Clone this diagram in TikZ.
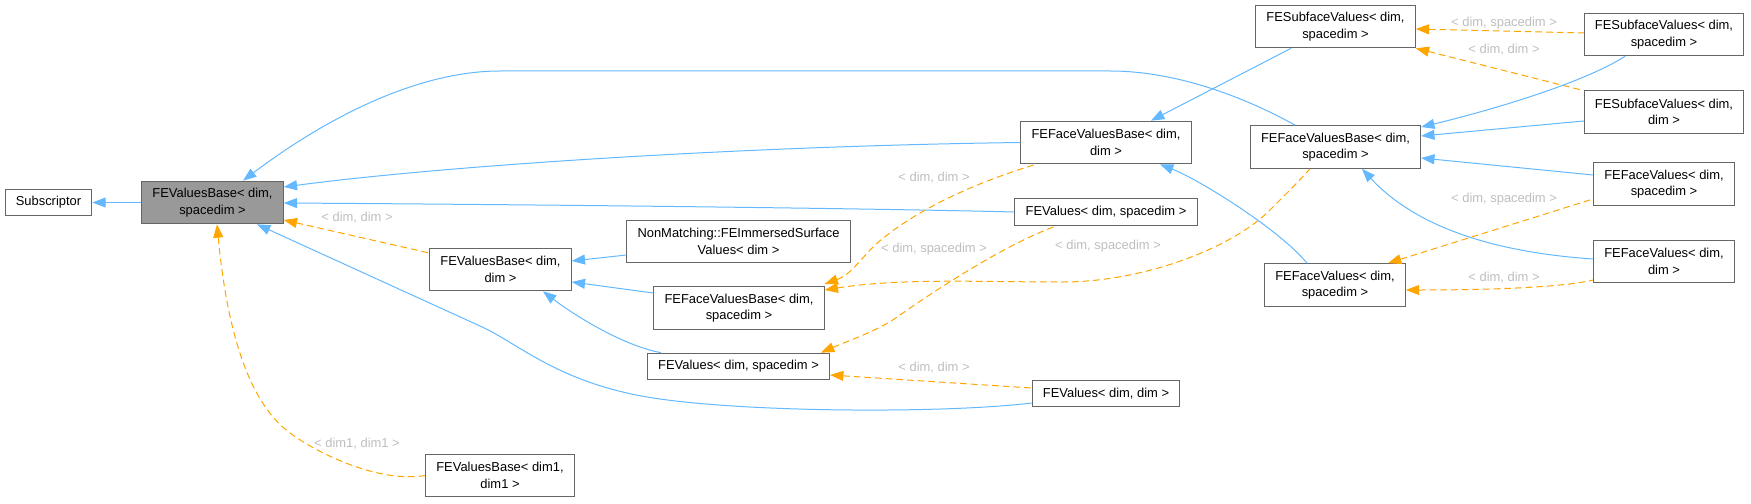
\documentclass[tikz,border=0pt]{standalone}
\usepackage{fontspec}
\setmainfont{Liberation Sans}
\usetikzlibrary{arrows.meta}
\definecolor{edgeblue}{HTML}{63B8FF}
\definecolor{edgeorange}{HTML}{FFA500}
\definecolor{boxline}{HTML}{666666}
\definecolor{boxgray}{HTML}{999999}
\definecolor{labelgray}{HTML}{BEBEBE}
\begin{document}
\begin{tikzpicture}[x=0.75pt, y=-0.75pt,
		every node/.style={font=\fontsize{9.7}{12.5}\selectfont},
		cls/.style={draw=boxline, line width=0.75pt, fill=white, align=center, inner xsep=8pt, inner ysep=0pt, minimum height=32pt},
		cls1/.style={cls, minimum height=20pt},
		inherit/.style={draw=edgeblue, line width=0.75pt, {Triangle[length=10pt,width=7.5pt,fill=edgeblue]}-},
		usage/.style={draw=edgeorange, line width=0.75pt, dash pattern=on 5pt off 3pt, {Triangle[length=10pt,width=7.5pt,fill=edgeorange]}-},
		tlabel/.style={text=labelgray, inner sep=1pt}]
	\useasboundingbox (0,0) rectangle (1751,503);

	\node[cls1] (sub) at (48.5,202.5) {Subscriptor};
	\node[cls, fill=boxgray] (fvb) at (212.5,202.5) {FEValuesBase< dim,\\spacedim >};
	\node[cls] (fvbdd) at (500.5,269.5) {FEValuesBase< dim,\\dim >};
	\node[cls] (nmis) at (738.5,241.5) {NonMatching::FEImmersedSurface\\Values< dim >};
	\node[cls] (ffvbl) at (739,308) {FEFaceValuesBase< dim,\\spacedim >};
	\node[cls1] (fvl) at (738.5,366.5) {FEValues< dim, spacedim >};
	\node[cls] (fvbone) at (500,475.5) {FEValuesBase< dim1,\\dim1 >};
	\node[cls1] (fvdd) at (1106,393.5) {FEValues< dim, dim >};
	\node[cls] (ffvbdd) at (1106,142.5) {FEFaceValuesBase< dim,\\dim >};
	\node[cls1] (fvm) at (1106,212) {FEValues< dim, spacedim >};
	\node[cls] (fsvt) at (1335.5,26.5) {FESubfaceValues< dim,\\spacedim >};
	\node[cls] (ffvbr) at (1335.5,147) {FEFaceValuesBase< dim,\\spacedim >};
	\node[cls] (ffvm) at (1335,285) {FEFaceValues< dim,\\spacedim >};
	\node[cls] (fsvr) at (1664,34.5) {FESubfaceValues< dim,\\spacedim >};
	\node[cls] (fsvdd) at (1664,112) {FESubfaceValues< dim,\\dim >};
	\node[cls] (ffvr) at (1664,184) {FEFaceValues< dim,\\spacedim >};
	\node[cls] (ffvdd) at (1664,261.5) {FEFaceValues< dim,\\dim >};

	\draw[inherit] (sub.east) -- (fvb.west);
	\draw[inherit] (fvb.east |- 0,187) .. controls (450,165) and (750,146) .. (ffvbdd.west);
	\draw[inherit] (fvb.east |- 0,203) .. controls (600,205) and (900,209) .. (fvm.west);
	\draw[usage] (fvb.east |- 0,220) -- (fvbdd.west |- 0,253);
	\draw[inherit] (257,0 |- fvb.south) -- (480,326) .. controls (520,344) and (560,385) .. (660,399) .. controls (760,413) and (950,413) .. (fvdd.west |- 0,403);
	\draw[usage] (217,0 |- fvb.south) .. controls (226,320) and (245,400) .. (290,433) .. controls (320,455) and (380,483) .. (fvbone.west);
	\draw[inherit] (243,0 |- fvb.north) .. controls (330,115) and (420,71) .. (500,71) -- (1110,71) .. controls (1180,71) and (1250,100) .. (1295,0 |- ffvbr.north);
	\draw[inherit] (fvbdd.east |- 0,261) -- (nmis.west |- 0,255);
	\draw[inherit] (fvbdd.east |- 0,282) -- (ffvbl.west |- 0,293);
	\draw[inherit] (543,0 |- fvbdd.south) .. controls (570,312) and (620,345) .. (661,0 |- fvl.north);
	\draw[usage] (ffvbl.east |- 0,284) .. controls (850,275) and (860,260) .. (875,245) .. controls (920,205) and (990,178) .. (1036,0 |- ffvbdd.south);
	\draw[usage] (ffvbl.east |- 0,290) .. controls (900,278) and (980,282) .. (1063,282) .. controls (1140,282) and (1230,250) .. (1270,210) .. controls (1290,190) and (1300,180) .. (1310,0 |- ffvbr.south);
	\draw[usage] (821,0 |- fvl.north) .. controls (850,340) and (880,330) .. (900,315) .. controls (950,280) and (1015,240) .. (1057,0 |- fvm.south);
	\draw[usage] (fvl.east |- 0,375) -- (fvdd.west |- 0,388);
	\draw[inherit] (1151,0 |- ffvbdd.north) -- (1291,0 |- fsvt.south);
	\draw[inherit] (1160,0 |- ffvbdd.south) .. controls (1200,180) and (1280,230) .. (1307,0 |- ffvm.north);
	\draw[usage] (fsvt.east |- 0,29) -- (fsvr.west |- 0,33);
	\draw[usage] (fsvt.south east) -- (1582,0 |- fsvdd.north);
	\draw[inherit] (ffvbr.east |- 0,127) .. controls (1480,113) and (1580,85) .. (1625,0 |- fsvr.south);
	\draw[inherit] (ffvbr.east |- 0,136) -- (fsvdd.west |- 0,121);
	\draw[inherit] (ffvbr.east |- 0,158) -- (ffvr.west |- 0,175);
	\draw[inherit] (1362,0 |- ffvbr.south) .. controls (1400,210) and (1460,250) .. (ffvdd.west |- 0,259);
	\draw[usage] (1388,0 |- ffvm.north) -- (ffvr.west |- 0,199);
	\draw[usage] (ffvm.east |- 0,290) .. controls (1480,290) and (1560,288) .. (ffvdd.west |- 0,280);

	\node[tlabel] (ldd1) at (357,218) {< dim, dim >};
	\node[tlabel] (ld11) at (357,444) {< dim1, dim1 >};
	\node[tlabel] (ldd2) at (934,178) {< dim, dim >};
	\node[tlabel] (lds1) at (934,249) {< dim, spacedim >};
	\node[tlabel] (ldd3) at (934,368) {< dim, dim >};
	\node[tlabel] (lds2) at (1108,246) {< dim, spacedim >};
	\node[tlabel] (lds3) at (1504,23) {< dim, spacedim >};
	\node[tlabel] (ldd4) at (1504,50) {< dim, dim >};
	\node[tlabel] (lds4) at (1504,199) {< dim, spacedim >};
	\node[tlabel] (ldd5) at (1504,278) {< dim, dim >};
\end{tikzpicture}
\end{document}
